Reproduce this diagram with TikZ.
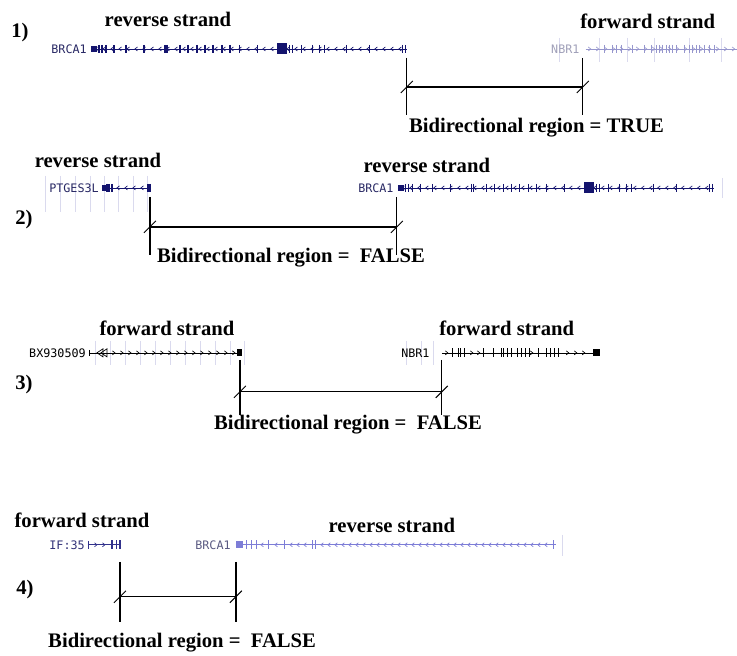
\documentclass[tikz,border=0pt]{standalone}
\usepackage{fontspec}
\setmainfont{Liberation Serif}
\newfontfamily\genefont{DejaVu Sans Mono}
\definecolor{genedark}{RGB}{20,20,110}
\definecolor{genelight}{RGB}{150,150,205}
\definecolor{genemid}{RGB}{50,50,140}
\definecolor{genepale}{RGB}{125,125,215}
\definecolor{gridfaint}{RGB}{218,218,238}
\definecolor{labdark}{RGB}{40,40,100}
\definecolor{lablight}{RGB}{160,160,185}
\definecolor{labmid}{RGB}{50,50,120}
\definecolor{labpale}{RGB}{90,90,130}

\begin{document}
\begin{tikzpicture}[
x=0.75pt, y=-0.75pt,
intron/.style={line width=0.5pt},
exon/.style={line width=0.9pt},
brcagene/.pic={
	\draw[intron] (0,0) -- (316,0);
	\foreach \x in {5,13,...,309} \draw[intron] (\x+1.5,-2) -- (\x-1,0) -- (\x+1.5,2);
	\fill (0,-3) rectangle (6,3);
	\fill (186,-5.5) rectangle (196,5.5);
	\foreach \x in {8,11,15,23,35,53,74,76,89,97,106,114,122,131,139,149,167,199,202,211,222,229,234,256,279,312,315}
		\draw[exon] (\x,-4) -- (\x,4);
	}
]

\tikzstyle{lab} = [font=\fontsize{15.5}{18}\selectfont\bfseries, inner sep=0pt]
\tikzstyle{gname} = [font=\genefont\fontsize{8.8}{10}\selectfont, inner sep=0pt, anchor=east]
\tikzstyle{bar} = [line width=0.95pt]
\tikzstyle{grid} = [gridfaint, line width=0.6pt]

\path[fill=white] (0,0) rectangle (737,656);

\node[lab] (num1) at (20,33) {1)};
\node[lab] (rev1) at (168,19) {reverse strand};
\node[lab] (fwd1) at (648,21) {forward strand};
\foreach \x in {560,600,628,655,690,722} \draw[grid] (\x,38) -- (\x,62);
\node[gname, text=labdark] (brca1a) at (87,49) {BRCA1};
\pic[genedark] at (91,49) {brcagene};
\node[gname, text=lablight] (nbr1a) at (580,49) {NBR1};
\begin{scope}[genelight, shift={(586,49)}]
	\draw[intron] (0,0) -- (151,0);
	\foreach \x in {4,12,...,148} \draw[intron] (\x-1.5,-2) -- (\x+1,0) -- (\x-1.5,2);
	\foreach \x in {19,27,31,36,47,59,66,71,74,77,81,84,87,91,99,104,107,111,114,119,124,129}
		\draw[exon] (\x,-4) -- (\x,4);
\end{scope}
\node[lab, anchor=west] (res1) at (409,128) {Bidirectional region = TRUE};

\node[lab] (rev2a) at (98,161) {reverse strand};
\node[lab] (rev2b) at (427,166) {reverse strand};
\node[lab] (num2) at (24,220) {2)};
\foreach \x in {45,60,75,90,104,118,133,147} \draw[grid] (\x,176) -- (\x,212);
\node[gname, text=labdark] (ptg) at (99,188) {PTGES3L};
\begin{scope}[genedark, shift={(102,188)}]
	\draw[intron] (0,0) -- (48,0);
	\fill (0,-3) rectangle (4,3);
	\foreach \x in {16,24,32,40} \draw[intron] (\x+1.5,-2) -- (\x-1,0) -- (\x+1.5,2);
	\foreach \x in {5,7,10,46,48} \draw[exon] (\x,-4) -- (\x,4);
\end{scope}
\node[gname, text=labdark] (brca2) at (394,188) {BRCA1};
\pic[genedark] at (398,188) {brcagene};
\draw[grid] (723,178) -- (723,198);
\node[lab, anchor=west] (res2) at (157,258) {Bidirectional region = ~FALSE};

\node[lab] (fwd3a) at (167,328) {forward strand};
\node[lab] (fwd3b) at (507,328) {forward strand};
\node[lab] (num3) at (24,385) {3)};
\foreach \x in {95,110,...,245,407,422,434} \draw[grid] (\x,341) -- (\x,365);
\node[gname] (bx) at (86,353) {BX930509};
\begin{scope}[shift={(89,353)}]
	\draw[intron] (0,0) -- (151,0);
	\draw[intron] (0,-3) -- (0,3);
	\draw[intron] (8,0) -- (14,-4) -- (14,4) -- cycle;
	\draw[intron] (12,0) -- (18,-4) -- (18,4) -- cycle;
	\foreach \x in {25,33,...,145} \draw[intron] (\x-1.5,-2) -- (\x+1,0) -- (\x-1.5,2);
	\fill (148,-3.5) rectangle (153,3.5);
\end{scope}
\node[gname] (nbr3) at (430,353) {NBR1};
\begin{scope}[shift={(442,353)}]
	\draw[intron] (0,0) -- (152,0);
	\foreach \x in {5,30,37,90,126,134,142} \draw[intron] (\x-1.5,-2) -- (\x+1,0) -- (\x-1.5,2);
	\foreach \x in {11,17,19,23,42,52,60,62,66,70,76,80,84,88,97,105,109,113,117}
		\draw[exon] (\x,-4.5) -- (\x,4.5);
	\fill (151,-3.5) rectangle (158,3.5);
\end{scope}
\node[lab, anchor=west] (res3) at (214,425) {Bidirectional region = ~FALSE};

\node[lab] (fwd4) at (82,521) {forward strand};
\node[lab] (rev4) at (392,526) {reverse strand};
\node[lab] (num4) at (25,590) {4)};
\node[gname, text=labmid] (ifi) at (85,545) {IF:35};
\begin{scope}[genemid, shift={(88,545)}]
	\draw[intron] (0,0) -- (32,0);
	\draw[intron] (0,-4) -- (0,4);
	\foreach \x in {8,16} \draw[intron] (\x-1.5,-2) -- (\x+1,0) -- (\x-1.5,2);
	\foreach \x in {24,28.5,32} \draw[exon] (\x,-4.5) -- (\x,4.5);
\end{scope}
\node[gname, text=labpale] (brca4) at (231,545) {BRCA1};
\begin{scope}[genepale, shift={(236,545)}]
	\draw[intron] (0,0) -- (320,0);
	\fill (0,-3.5) rectangle (7,3.5);
	\foreach \x in {26,40,55,62,69,86,93,...,312} \draw[intron] (\x+1.5,-2) -- (\x-1,0) -- (\x+1.5,2);
	\foreach \x in {11,16,21,33,49,77,80,318} \draw[exon] (\x,-4.5) -- (\x,4.5);
\end{scope}
\draw[grid] (563,535) -- (563,556);
\node[lab, anchor=west] (res4) at (48,643) {Bidirectional region = ~FALSE};

\foreach \k/\l/\r/\t/\m/\b in {1/407/583/58/87/115, 2/150/397/197/227/255, 3/240/442/360/392/415, 4/120/236/562/597/622}{
	\coordinate (L\k t) at (\l,\t);
	\coordinate (L\k m) at (\l,\m);
	\coordinate (L\k b) at (\l,\b);
	\coordinate (R\k t) at (\r,\t);
	\coordinate (R\k m) at (\r,\m);
	\coordinate (R\k b) at (\r,\b);
	\draw[bar] (L\k t) -- (L\k b);
	\draw[bar] (R\k t) -- (R\k b);
	\draw[bar] (L\k m) -- (R\k m);
	\draw[line width=0.7pt] ([shift={(-6,6)}]L\k m) -- ([shift={(6,-6)}]L\k m);
	\draw[line width=0.7pt] ([shift={(-6,6)}]R\k m) -- ([shift={(6,-6)}]R\k m);
}

\end{tikzpicture}
\end{document}
